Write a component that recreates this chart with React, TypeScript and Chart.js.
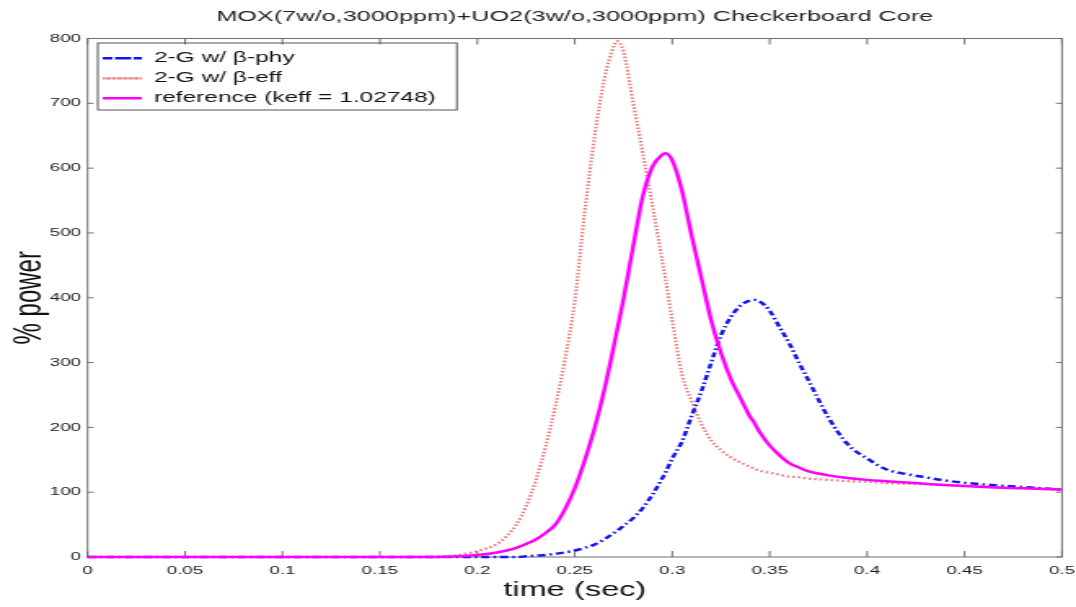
import React, { useEffect, useRef } from 'react';
import { Chart, registerables } from 'chart.js';

Chart.register(...registerables);

// ---- data ----
const times = [
  0, 0.05, 0.1, 0.15, 0.18, 0.19, 0.2, 0.21, 0.215, 0.22, 0.225, 0.23, 0.235, 0.24, 0.245,
  0.25, 0.255, 0.26, 0.265, 0.27, 0.2715, 0.275, 0.28, 0.285, 0.29, 0.295, 0.2965,
  0.3, 0.305, 0.31, 0.315, 0.32, 0.325, 0.33, 0.335, 0.34, 0.3415, 0.345, 0.35,
  0.355, 0.36, 0.365, 0.37, 0.38, 0.39, 0.4, 0.41, 0.42, 0.43, 0.44, 0.46, 0.48, 0.5,
];

const betaPhy = [
  0, 0, 0, 0, 0, 0, 0, 0, 0, 0, 1, 2, 3, 5, 7,
  10, 14, 19, 27, 37, 40, 48, 60, 76, 97, 122, 130,
  152, 178, 218, 256, 300, 342, 370, 388, 396, 397, 394, 380,
  355, 330, 300, 272, 216, 174, 152, 135, 128, 123, 118, 112, 108, 104,
];

const betaEff = [
  0, 0, 0, 0, 1, 3, 9, 20, 32, 50, 78, 118, 170, 232, 305,
  395, 530, 645, 735, 788, 796, 780, 700, 622, 540, 455, 430,
  365, 282, 240, 205, 180, 165, 154, 146, 139, 137, 133, 130,
  127, 124, 123, 121, 119, 117, 116, 114, 113, 112, 111, 109, 106, 103,
];

const reference = [
  0, 0, 0, 0, 0, 1, 3, 7, 10, 14, 20, 27, 37, 50, 74,
  106, 148, 197, 256, 325, 347, 398, 480, 558, 603, 621, 623,
  612, 565, 495, 430, 365, 315, 275, 245, 216, 210, 192, 172,
  157, 145, 138, 132, 126, 122, 119, 117, 115, 113, 111, 108, 106, 104,
];

const xTicks = [0, 0.05, 0.1, 0.15, 0.2, 0.25, 0.3, 0.35, 0.4, 0.45, 0.5];
const xTickLabels = ['0', '0.05', '0.1', '0.15', '0.2', '0.25', '0.3', '0.35', '0.4', '0.45', '0.5'];
const yTicks = [0, 100, 200, 300, 400, 500, 600, 700, 800];
const yTickLabels = ['0', '100', '200', '300', '400', '500', '600', '700', '800'];

const seriesLabels = ['2-G w/ β-phy', '2-G w/ β-eff', 'reference (keff = 1.02748)'];
const titleText = 'MOX(7w/o,3000ppm)+UO2(3w/o,3000ppm) Checkerboard Core';

// ---- layout ----
const CW = 660;
const CH = 607;
const FONT = "'Liberation Sans', Arial, Helvetica, sans-serif";
const NARROW = "'Liberation Sans Narrow', 'Arial Narrow', 'Liberation Sans', Arial, sans-serif";

const framePlugin = {
  id: 'frame',
  afterLayout(chart: any) {
    const lg = chart.legend;
    if (lg) {
      lg.left = chart.chartArea.left + 4.3;
      lg.top = chart.chartArea.top + 7.3;
      lg.bottom = lg.top + lg.height;
      lg.right = lg.left + lg.width;
    }
  },
  beforeDatasetsDraw(chart: any) {
    const { ctx, chartArea, scales } = chart;
    const { left, right, top, bottom } = chartArea;
    ctx.save();
    ctx.strokeStyle = '#6e6e6e';
    ctx.lineWidth = 1;
    ctx.strokeRect(left, top, right - left, bottom - top);
    ctx.beginPath();
    xTicks.forEach((v) => {
      const px = scales.x.getPixelForValue(v);
      ctx.moveTo(px, bottom);
      ctx.lineTo(px, bottom - 6);
      ctx.moveTo(px, top);
      ctx.lineTo(px, top + 6);
    });
    yTicks.forEach((v) => {
      const py = scales.y.getPixelForValue(v);
      ctx.moveTo(left, py);
      ctx.lineTo(left + 3.7, py);
      ctx.moveTo(right, py);
      ctx.lineTo(right - 3.7, py);
    });
    ctx.stroke();
    ctx.restore();
  },
  afterDraw(chart: any) {
    const lg = chart.legend;
    if (!lg || !lg.legendHitBoxes || !lg.legendHitBoxes.length) return;
    const hbs = lg.legendHitBoxes;
    const first = hbs[0];
    const last = hbs[hbs.length - 1];
    let maxRight = 0;
    hbs.forEach((h: any) => {
      maxRight = Math.max(maxRight, h.left + h.width);
    });
    const x0 = first.left - 3;
    const y0 = first.top - 7.8;
    const x1 = maxRight + 13;
    const y1 = last.top + last.height + 4.2;
    const { ctx } = chart;
    ctx.save();
    ctx.strokeStyle = '#555';
    ctx.lineWidth = 1;
    ctx.strokeRect(x0, y0, x1 - x0, y1 - y0);
    ctx.restore();
  },
};

function toPoints(vals: number[]) {
  return times.map((t, i) => ({ x: t, y: vals[i] }));
}

function noPad(s: any) {
  s.paddingLeft = 0;
  s.paddingRight = 0;
  s.paddingTop = 0;
  s.paddingBottom = 0;
}

export default function App() {
  const ref = useRef<HTMLCanvasElement | null>(null);

  useEffect(() => {
    if (!ref.current) return;
    const chart = new Chart(ref.current, {
      type: 'line',
      data: {
        datasets: [
          {
            label: seriesLabels[0],
            data: toPoints(betaPhy),
            borderColor: '#1414f0',
            backgroundColor: 'transparent',
            borderWidth: 2.5,
            borderDash: [5, 2.5, 1.5, 2.5],
            pointRadius: 0,
            cubicInterpolationMode: 'monotone',
            clip: false,
            order: 1,
          },
          {
            label: seriesLabels[1],
            data: toPoints(betaEff),
            borderColor: 'rgba(228,105,105,0.85)',
            backgroundColor: 'transparent',
            borderWidth: 2.2,
            borderDash: [1.6, 1.8],
            pointRadius: 0,
            cubicInterpolationMode: 'monotone',
            clip: false,
            order: 2,
          },
          {
            label: seriesLabels[2],
            data: toPoints(reference),
            borderColor: '#ff00ff',
            backgroundColor: 'transparent',
            borderWidth: 2.5,
            pointRadius: 0,
            cubicInterpolationMode: 'monotone',
            clip: false,
            order: 0,
          },
        ],
      } as any,
      options: {
        responsive: false,
        animation: false,
        events: [],
        layout: { padding: { left: 0, right: 8.6, top: 0, bottom: 0 } },
        plugins: {
          title: {
            display: true,
            fullSize: false,
            text: titleText,
            color: '#222',
            font: { family: FONT, size: 15.5, weight: 'normal' },
            padding: { top: 7, bottom: 12.9 },
          },
          legend: {
            position: 'chartArea',
            align: 'start',
            labels: {
              boxWidth: 24,
              boxHeight: 0,
              padding: 5,
              color: '#111',
              font: { family: FONT, size: 15 },
              sort: (a: any, b: any) => a.datasetIndex - b.datasetIndex,
            },
          },
          tooltip: { enabled: false },
        },
        scales: {
          x: {
            type: 'linear',
            min: 0,
            max: 0.5,
            afterBuildTicks: (s: any) => {
              s.ticks = xTicks.map((v) => ({ value: v }));
            },
            afterFit: (s: any) => {
              s.height = 50;
              noPad(s);
            },
            ticks: {
              autoSkip: false,
              maxRotation: 0,
              padding: 7,
              color: '#1a1a1a',
              font: { family: FONT, size: 11.5 },
              callback: (_v: any, i: number) => xTickLabels[i],
            },
            grid: { display: false, drawTicks: false },
            border: { display: false },
            title: {
              display: true,
              text: 'time (sec)',
              color: '#111',
              font: { family: NARROW, size: 20 },
              padding: { top: 0, bottom: 5 },
            },
          },
          y: {
            type: 'linear',
            min: 0,
            max: 800,
            afterBuildTicks: (s: any) => {
              s.ticks = yTicks.map((v) => ({ value: v }));
            },
            afterFit: (s: any) => {
              s.width = 53.7;
              noPad(s);
            },
            ticks: {
              autoSkip: false,
              padding: 4,
              color: '#1a1a1a',
              font: { family: FONT, size: 11.5 },
              callback: (_v: any, i: number) => yTickLabels[i],
            },
            grid: { display: false, drawTicks: false },
            border: { display: false },
            title: {
              display: true,
              text: '% power',
              color: '#111',
              font: { family: NARROW, size: 24 },
              padding: { top: 3.5, bottom: 0 },
            },
          },
        },
      } as any,
      plugins: [framePlugin],
    });
    return () => chart.destroy();
  }, []);

  return (
    <div style={{ position: 'absolute', left: 0, top: 0, width: 1076, height: 607, background: '#fff' }}>
      <canvas
        ref={ref}
        width={CW}
        height={CH}
        style={{ width: '1076px', height: '607px', display: 'block' }}
      />
    </div>
  );
}
